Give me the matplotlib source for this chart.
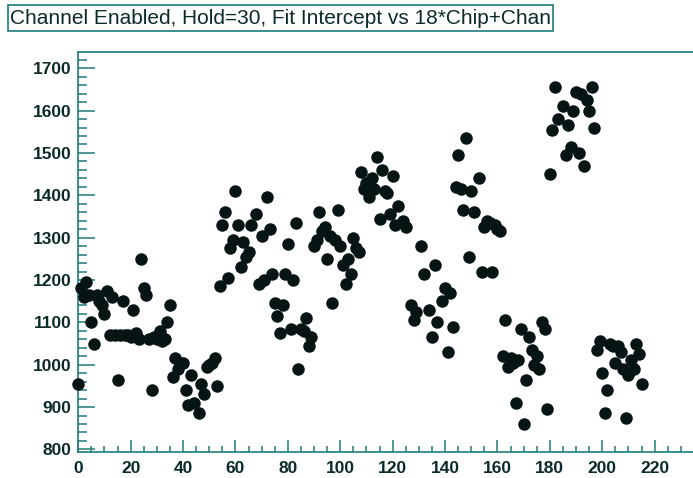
import matplotlib
matplotlib.use("Agg")
import matplotlib.pyplot as plt
from matplotlib.patches import Rectangle
from matplotlib.ticker import MultipleLocator

# x = 18*Chip + Chan, y = fit intercept
chan_x = [
    0, 1, 2, 3, 4, 5, 6, 7, 8, 9, 10, 11, 12, 13, 14, 15, 16, 17,
    18, 19, 20, 21, 22, 23, 24, 25, 26, 27, 28, 29, 30, 31, 32, 33, 34, 35,
    36, 37, 38, 39, 40, 41, 42, 43, 44, 46, 47, 48, 49, 50, 51, 52, 53,
    54, 55, 56, 57, 58, 59, 60, 61, 62, 63, 64, 65, 66, 68, 69, 70, 71,
    72, 73, 74, 75, 76, 77, 78, 79, 80, 81, 82, 83, 84, 85, 86, 87, 88, 89,
    90, 91, 92, 93, 94, 95, 96, 97, 98, 99, 100, 101, 102, 103, 104, 105, 106, 107,
    108, 109, 110, 111, 112, 113, 114, 115, 116, 117, 118, 119, 120, 121, 122, 124, 125,
    127, 128, 129, 131, 132, 134, 135, 136, 137, 139, 140, 141, 142, 143,
    144, 145, 146, 147, 148, 149, 150, 151, 153, 154, 155, 156, 157, 158, 159, 160, 161,
    162, 163, 164, 165, 166, 167, 168, 169, 170, 171, 172, 173, 174, 175, 176, 177, 178, 179,
    180, 181, 182, 183, 185, 186, 187, 188, 189, 190, 191, 192, 193, 194, 195, 196, 197,
    198, 199, 200, 201, 202, 203, 204, 205, 206, 207, 208, 209, 210, 211, 212, 213, 214, 215,
]
intercept = [
    955, 1180, 1160, 1195, 1165, 1100, 1050, 1165, 1150, 1140, 1120, 1175, 1070, 1160, 1070, 965, 1070, 1150,
    1070, 1070, 1065, 1130, 1075, 1060, 1250, 1180, 1165, 1060, 940, 1065, 1060, 1080, 1055, 1060, 1100, 1140,
    970, 1015, 990, 1005, 1005, 940, 905, 975, 910, 885, 955, 930, 995, 1000, 1005, 1015, 950,
    1185, 1330, 1360, 1205, 1275, 1295, 1410, 1330, 1230, 1290, 1255, 1265, 1330, 1355, 1190, 1305, 1200,
    1395, 1320, 1215, 1145, 1115, 1075, 1140, 1215, 1285, 1085, 1200, 1335, 990, 1085, 1080, 1110, 1045, 1065,
    1280, 1295, 1360, 1315, 1325, 1250, 1305, 1145, 1295, 1365, 1280, 1235, 1190, 1250, 1215, 1300, 1275, 1265,
    1455, 1415, 1430, 1395, 1440, 1415, 1490, 1345, 1460, 1410, 1405, 1355, 1445, 1330, 1375, 1340, 1325,
    1140, 1105, 1125, 1280, 1215, 1130, 1065, 1235, 1100, 1150, 1180, 1030, 1170, 1090,
    1420, 1495, 1415, 1365, 1535, 1255, 1410, 1360, 1440, 1220, 1325, 1340, 1335, 1220, 1330, 1320, 1315,
    1020, 1105, 995, 1015, 1005, 910, 1010, 1085, 860, 965, 1065, 1035, 1000, 1020, 990, 1100, 1085, 895,
    1450, 1555, 1655, 1580, 1610, 1495, 1565, 1515, 1600, 1645, 1500, 1640, 1470, 1625, 1600, 1655, 1560,
    1035, 1055, 980, 885, 940, 1050, 1045, 1005, 1045, 1030, 990, 875, 975, 1010, 990, 1050, 1025, 955,
]

title = "Channel Enabled, Hold=30, Fit Intercept vs 18*Chip+Chan"
x_ticks = [0, 20, 40, 60, 80, 100, 120, 140, 160, 180, 200, 220]
y_ticks = [800, 900, 1000, 1100, 1200, 1300, 1400, 1500, 1600, 1700]

W, H = 693, 478
axis_col = "#1f7c7c"
text_col = "#0b2a2a"
dot_col = "#061414"

fig = plt.figure(figsize=(W / 100, H / 100), dpi=100)
fig.patch.set_facecolor("white")

ax = fig.add_axes([78.3 / W, 1 - 451.5 / H, (695 - 78.3) / W, (451.5 - 51.7) / H])
ax.plot(chan_x, intercept, linestyle="none", marker="o", ms=9,
        color=dot_col, markeredgewidth=0, clip_on=False, zorder=3)

ax.set_xlim(0, 235.4)
ax.set_ylim(795, 1739)

ax.set_xticks(x_ticks)
ax.set_yticks(y_ticks)
ax.xaxis.set_minor_locator(MultipleLocator(5))
ax.yaxis.set_minor_locator(MultipleLocator(20))

for side in ["left", "bottom", "top", "right"]:
    ax.spines[side].set_color(axis_col)
    ax.spines[side].set_linewidth(1.2)

ax.tick_params(axis="both", which="both", direction="in", color=axis_col,
               width=1.1, labelcolor=text_col)
ax.tick_params(axis="y", which="major", length=12.5, pad=5)
ax.tick_params(axis="y", which="minor", length=6.5)
ax.tick_params(axis="x", which="major", length=8.5, pad=6.5)
ax.tick_params(axis="x", which="minor", length=4)
ax.tick_params(top=False, right=False, which="both")

for lab in ax.get_xticklabels() + ax.get_yticklabels():
    lab.set_fontfamily("Liberation Sans")
    lab.set_fontweight("bold")
    lab.set_fontsize(12.5)

# title box
fig.patches.append(Rectangle((8 / W, 1 - 31 / H), (553 - 8) / W, 26 / H,
                             transform=fig.transFigure, facecolor="white",
                             edgecolor=axis_col, linewidth=1.2))
fig.text(10.5 / W, 1 - 18 / H, title, ha="left", va="center",
         fontfamily="Liberation Sans", fontsize=15, color=text_col)

fig.savefig("out.png", dpi=100)
